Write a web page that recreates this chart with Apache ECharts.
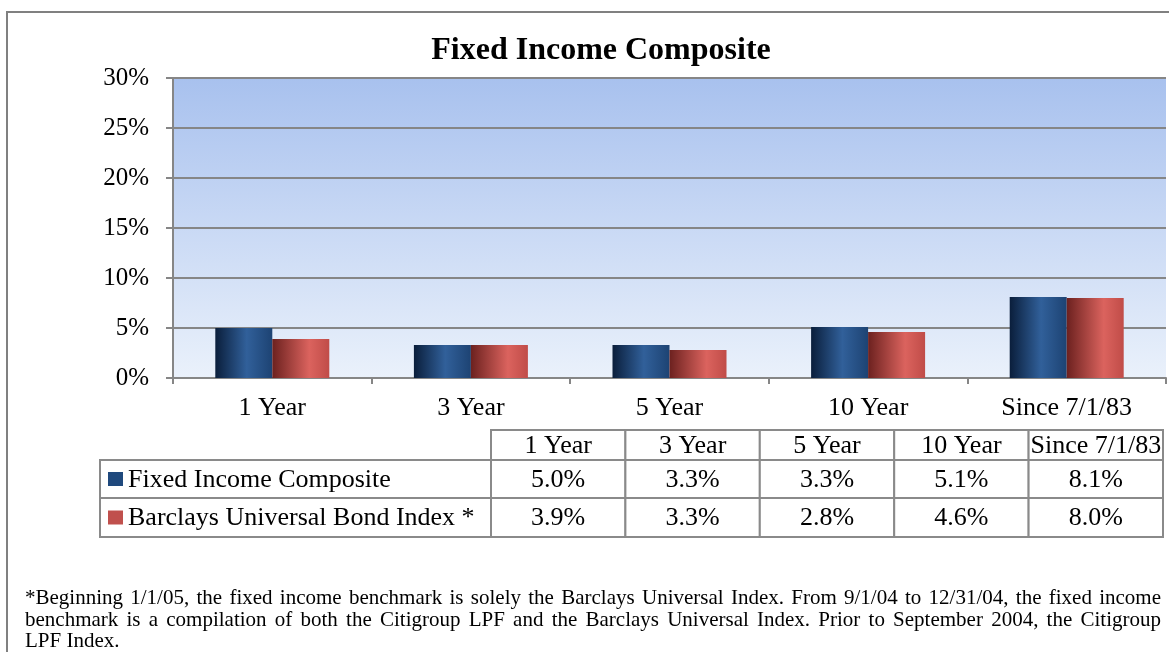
<!DOCTYPE html>
<html>
<head>
<meta charset="utf-8">
<title>Fixed Income Composite</title>
<script src="https://cdn.jsdelivr.net/npm/echarts@6/dist/echarts.min.js"></script>
<style>
    html, body { margin: 0; padding: 0; background: #fff; }
    #main { width: 1169px; height: 652px; position: relative; }
    #note {
        position: absolute; left: 25px; top: 587px; width: 1136px;
        font-family: 'Liberation Serif', 'Times New Roman', serif;
        font-size: 21px; line-height: 21.5px; color: #000;
    }
    #note div { text-align: justify; text-align-last: justify; white-space: nowrap; }
    #note div.last { text-align-last: left; }
</style>
</head>
<body>
<div id="main"></div>
<div id="note"></div>
<script>
// 数据
var categories = ['1 Year', '3 Year', '5 Year', '10 Year', 'Since 7/1/83'];
var seriesNames = ['Fixed Income Composite', 'Barclays Universal Bond Index *'];
var compositeValues = [5.0, 3.3, 3.3, 5.1, 8.1];
var benchmarkValues = [3.9, 3.3, 2.8, 4.6, 8.0];
var yTicks = [0, 5, 10, 15, 20, 25, 30];
var noteLines = [
    '*Beginning 1/1/05, the fixed income benchmark is solely the Barclays Universal Index. From 9/1/04 to 12/31/04, the fixed income',
    'benchmark is a compilation of both the Citigroup LPF and the Barclays Universal Index.  Prior to  September 2004, the Citigroup',
    'LPF Index.'
];

var serif = 'Liberation Serif';
var swatchColors = ['#1f497d', '#c0504d'];

// 柱子渐变
var blueFill = new echarts.graphic.LinearGradient(0, 0, 1, 0, [
    {offset: 0, color: '#0a1e3b'},
    {offset: 0.55, color: '#31609a'},
    {offset: 1, color: '#1d4373'}
]);
var redFill = new echarts.graphic.LinearGradient(0, 0, 1, 0, [
    {offset: 0, color: '#6c211f'},
    {offset: 0.65, color: '#db635e'},
    {offset: 1, color: '#c04c48'}
]);

// 表格（图例 + 数据）
function buildTable() {
    var els = [];
    var labelLeft = 100, colLeft = 491, colW = 134.4;
    var rowTop = [430, 460, 498, 537];
    var line = {stroke: '#8a8a8a', lineWidth: 2, fill: '#fff'};
    var font = '26px ' + serif;
    var allValues = [compositeValues, benchmarkValues];

    // 表头
    for (var i = 0; i < categories.length; i++) {
        els.push({type: 'rect', shape: {x: colLeft + i * colW, y: rowTop[0], width: colW, height: rowTop[1] - rowTop[0]}, style: line});
        els.push({type: 'text', style: {text: categories[i], x: colLeft + i * colW + colW / 2, y: (rowTop[0] + rowTop[1]) / 2 + 1,
            font: font, fill: '#000', align: 'center', verticalAlign: 'middle'}, z: 10});
    }
    // 数据行
    for (var r = 0; r < seriesNames.length; r++) {
        var top = rowTop[r + 1], h = rowTop[r + 2] - top, mid = top + h / 2 + 1;
        els.push({type: 'rect', shape: {x: labelLeft, y: top, width: colLeft - labelLeft, height: h}, style: line});
        els.push({type: 'rect', shape: {x: 108, y: mid - 8, width: 15, height: 14}, style: {fill: swatchColors[r]}, z: 10});
        els.push({type: 'text', style: {text: seriesNames[r], x: 128, y: mid, font: font, fill: '#000',
            align: 'left', verticalAlign: 'middle'}, z: 10});
        for (var c = 0; c < categories.length; c++) {
            els.push({type: 'rect', shape: {x: colLeft + c * colW, y: top, width: colW, height: h}, style: line});
            els.push({type: 'text', style: {text: allValues[r][c].toFixed(1) + '%', x: colLeft + c * colW + colW / 2, y: mid,
                font: font, fill: '#000', align: 'center', verticalAlign: 'middle'}, z: 10});
        }
    }
    // 外框
    els.push({type: 'rect', shape: {x: 7, y: 12, width: 1300, height: 800}, style: {fill: 'none', stroke: '#808080', lineWidth: 2}, z: 20});
    return els;
}

var chart = echarts.init(document.getElementById('main'));
var option = {
    backgroundColor: '#fff',
    animation: false,
    textStyle: {fontFamily: serif},
    title: {
        text: 'Fixed Income Composite',
        left: 601, top: 35, padding: 0, textAlign: 'center',
        textStyle: {fontFamily: serif, fontSize: 32, fontWeight: 'bold', color: '#000'}
    },
    grid: {
        left: 173, right: 3, top: 78, bottom: 274,
        show: true, borderWidth: 0,
        backgroundColor: new echarts.graphic.LinearGradient(0, 0, 0, 1, [
            {offset: 0, color: '#a8c1ee'},
            {offset: 1, color: '#eaf1fb'}
        ])
    },
    xAxis: {
        type: 'category',
        data: categories,
        axisLine: {lineStyle: {color: '#868686', width: 2}},
        axisTick: {show: true, length: 6, lineStyle: {color: '#868686', width: 2}},
        axisLabel: {fontFamily: serif, fontSize: 26, color: '#000', margin: 17}
    },
    yAxis: {
        type: 'value',
        min: yTicks[0], max: yTicks[yTicks.length - 1], interval: 5,
        axisLine: {show: true, lineStyle: {color: '#868686', width: 2}},
        axisTick: {show: true, length: 7, lineStyle: {color: '#868686', width: 2}},
        axisLabel: {fontFamily: serif, fontSize: 25, color: '#000', margin: 24, formatter: '{value}%'},
        splitLine: {lineStyle: {color: '#868686', width: 2}}
    },
    series: [{
        name: seriesNames[0],
        type: 'bar',
        data: compositeValues,
        barWidth: 57,
        barGap: '0%',
        itemStyle: {color: blueFill}
    }, {
        name: seriesNames[1],
        type: 'bar',
        data: benchmarkValues,
        barWidth: 57,
        itemStyle: {color: redFill}
    }],
    graphic: buildTable()
};
chart.setOption(option, true);

// 脚注
var note = document.getElementById('note');
noteLines.forEach(function (t, i) {
    var d = document.createElement('div');
    d.textContent = t;
    if (i === noteLines.length - 1) d.className = 'last';
    note.appendChild(d);
});
</script>
</body>
</html>
